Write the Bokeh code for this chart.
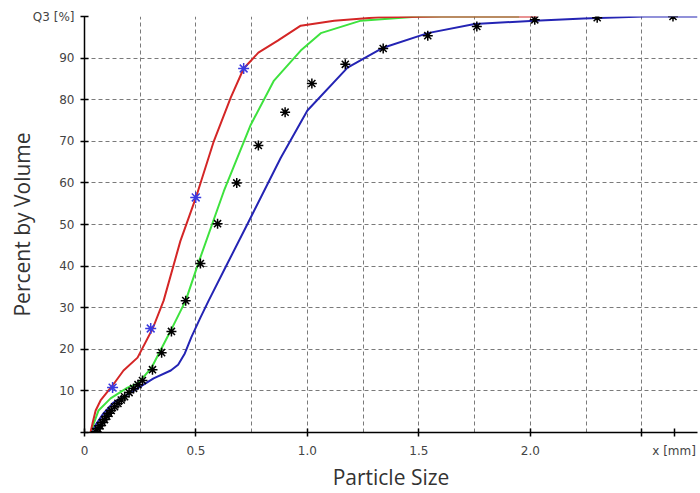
from bokeh.plotting import figure
from bokeh.models import FixedTicker, Range1d
from bokeh.embed import file_html
from bokeh.resources import INLINE

# ---- data (x in mm, y in % passing) ----
red_x = [0.027, 0.036, 0.05, 0.072, 0.126, 0.175, 0.238, 0.306, 0.355, 0.43, 0.50, 0.58, 0.656, 0.714, 0.78, 0.867, 0.97, 1.12, 1.32, 1.6, 2.03]
red_y = [0, 2.2, 5.3, 7.7, 11.3, 14.9, 18, 25, 31.7, 46, 56.5, 70, 80.5, 87.5, 91.3, 94.2, 97.8, 99, 99.8, 100, 100]

green_x = [0.027, 0.063, 0.117, 0.193, 0.24, 0.30, 0.387, 0.454, 0.51, 0.625, 0.746, 0.85, 0.97, 1.06, 1.24, 1.5, 1.95]
green_y = [0, 5.3, 8.2, 10.8, 11.8, 15.5, 24.5, 31.7, 40.6, 58, 74, 84.6, 91.8, 96, 99, 100, 100]

blue_x = [0.027, 0.085, 0.13, 0.22, 0.31, 0.387, 0.42, 0.45, 0.48, 0.52, 0.557, 0.64, 0.73, 0.88, 1.0, 1.18, 1.34, 1.54, 1.75, 2.02, 2.24, 2.51, 2.75]
blue_y = [0, 4.6, 7.2, 10, 13, 14.9, 16.3, 19, 23, 27.6, 31.7, 40.5, 50, 66, 77.4, 87.7, 92.5, 96, 98.2, 99, 99.5, 100, 100]

meas_x = [0.05, 0.06, 0.07, 0.08, 0.09, 0.10, 0.11, 0.12, 0.135, 0.15, 0.165, 0.18, 0.20, 0.22, 0.24, 0.26,
          0.305, 0.346, 0.39, 0.454, 0.52, 0.597, 0.683, 0.78, 0.90, 1.02, 1.17, 1.34, 1.54, 1.76, 2.02, 2.30, 2.64]
meas_y = [0.2, 0.9, 1.6, 2.4, 3.1, 3.9, 4.6, 5.3, 6.2, 7.0, 7.8, 8.6, 9.6, 10.6, 11.5, 12.5,
          15.1, 19.2, 24.3, 31.7, 40.6, 50.2, 60, 69, 77, 83.9, 88.5, 92.3, 95.4, 97.6, 99.2, 99.7, 100]

ref_x = [0.126, 0.297, 0.499, 0.714]
ref_y = [10.8, 25, 56.5, 87.5]

x_ticks = [0, 0.5, 1.0, 1.5, 2.0, 2.5, 2.645]
x_grid = [0, 0.25, 0.5, 0.75, 1.0, 1.25, 1.5, 1.75, 2.0, 2.25, 2.5, 2.75]
y_ticks = [0, 10, 20, 30, 40, 50, 60, 70, 80, 90, 100]
y_tick_labels = {0: "", 100: "Q3 [%]"}
x_tick_labels = {0: "0", 0.5: "0.5", 1: "1.0", 1.5: "1.5", 2: "2.0", 2.5: "", 2.645: "x [mm]"}

p = figure(width=700, height=493, output_backend="svg", toolbar_location=None,
           x_range=Range1d(0, 2.75), y_range=Range1d(0, 100),
           min_border_left=84, min_border_right=3, min_border_top=16, min_border_bottom=61)
p.outline_line_color = None
p.background_fill_color = "white"
p.border_fill_color = "white"

# grid
p.xgrid.ticker = FixedTicker(ticks=x_grid)
p.ygrid.ticker = FixedTicker(ticks=y_ticks)
for g in (p.xgrid, p.ygrid):
    g.grid_line_color = "#7a7a7a"
    g.grid_line_dash = "4 3"
    g.grid_line_width = 1

# axes
p.xaxis.ticker = FixedTicker(ticks=x_ticks)
p.yaxis.ticker = FixedTicker(ticks=y_ticks)
p.xaxis.major_label_overrides = x_tick_labels
p.yaxis.major_label_overrides = y_tick_labels
for ax in (p.xaxis, p.yaxis):
    ax.axis_line_color = "black"
    ax.axis_line_width = 1.5
    ax.major_tick_line_color = "black"
    ax.major_tick_line_width = 1.5
    ax.major_tick_in = 4
    ax.major_tick_out = 4
    ax.minor_tick_line_color = None
    ax.major_label_text_font = "DejaVu Sans"
    ax.major_label_text_font_size = "12px"
    ax.major_label_text_color = "#444444"
    ax.axis_label_text_font = "Open Sans"
    ax.axis_label_text_font_size = "21px"
    ax.axis_label_text_font_style = "normal"
    ax.axis_label_text_color = "#333333"
p.xaxis.major_label_standoff = 7
p.yaxis.major_label_standoff = 6
p.xaxis.axis_label = "Particle Size"
p.yaxis.axis_label = "Percent by Volume"
p.xaxis.axis_label_standoff = 2
p.yaxis.axis_label_standoff = -6
p.xaxis.axis_label_text_line_height = 0.9

# curves
p.line(blue_x, blue_y, line_color="#2424b4", line_width=2)
p.line(green_x, green_y, line_color="#3ee23e", line_width=2)
p.line(red_x, red_y, line_color="#d42626", line_width=2)

p.scatter(meas_x, meas_y, marker="asterisk", size=10, line_color="black", line_width=1.5)
p.scatter(ref_x, ref_y, marker="asterisk", size=11, line_color="#3a3ae0", line_width=1.5)

open("out.html", "w").write(file_html(p, INLINE))
